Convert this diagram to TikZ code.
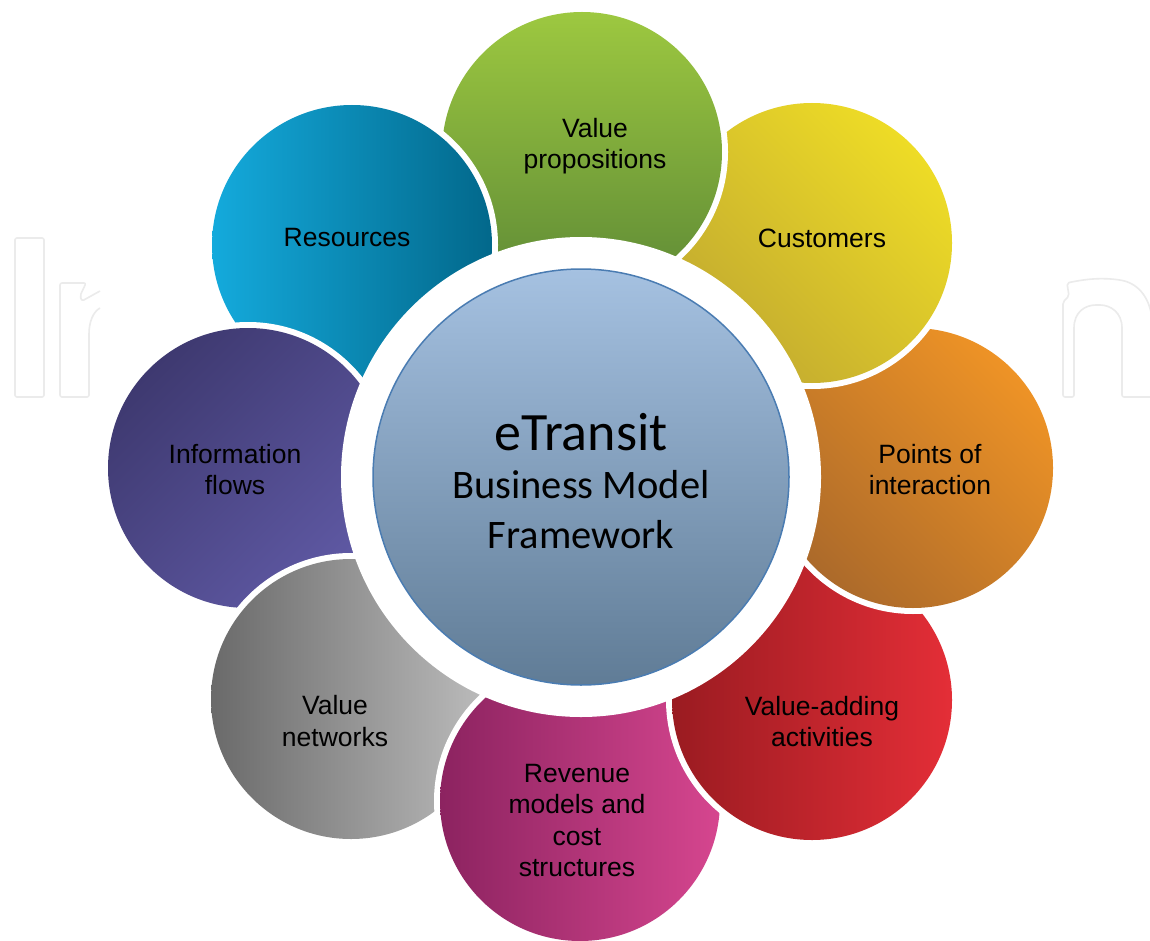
\documentclass[tikz,border=0pt]{standalone}
\usepackage{fontspec}
\setmainfont{Liberation Sans}
\newfontfamily\hubfont{Carlito}
\definecolor{gA}{HTML}{9DC840}\definecolor{gB}{HTML}{5E8A36}
\definecolor{yA}{HTML}{EEDC26}\definecolor{yB}{HTML}{C2AA30}
\definecolor{oA}{HTML}{EE9326}\definecolor{oB}{HTML}{AC6A2A}
\definecolor{rA}{HTML}{E42E37}\definecolor{rB}{HTML}{9A1B21}
\definecolor{mA}{HTML}{D6468F}\definecolor{mB}{HTML}{8C2360}
\definecolor{grA}{HTML}{BDBDBD}\definecolor{grB}{HTML}{6A6A6A}
\definecolor{pA}{HTML}{3E3970}\definecolor{pB}{HTML}{5F59A4}
\definecolor{bA}{HTML}{14AADC}\definecolor{bB}{HTML}{02688B}
\definecolor{cA}{HTML}{A5C1E1}\definecolor{cB}{HTML}{607C96}
\definecolor{cE}{HTML}{4A7CB2}
\definecolor{wm}{HTML}{EBEBEB}
\tikzset{
  halo/.style={fill=white},
  lbl/.style={align=center, text=black, inner sep=0pt, font=\fontsize{26.5}{31.5}\selectfont},
  wmline/.style={draw=wm, line width=1.6pt, line join=round},
}
\begin{document}
\begin{tikzpicture}[x=1pt,y=-1pt]
\useasboundingbox (0,0) rectangle (1150,941);
\fill[white] (0,0) rectangle (1150,941);
% watermark remnants
\draw[wmline, rounded corners=2pt] (15,238) rectangle (44,397);
\draw[wmline, rounded corners=2pt] (100,308) .. controls (93,312) and (89,322) .. (89,336) -- (89,397) -- (60,397) -- (60,283) -- (86,283) -- (80,296) -- (82,301) -- (100,291);
\draw[wmline, rounded corners=2pt] (1063,397) -- (1063,302) -- (1069,296) -- (1067,283) .. controls (1090,278) and (1105,278) .. (1120,280) .. controls (1140,284) and (1150,300) .. (1152,320) -- (1152,397) -- (1122,397) -- (1122,330) .. controls (1122,312) and (1110,305) .. (1098,305) .. controls (1085,305) and (1074,312) .. (1074,330) -- (1074,397) -- cycle;
% outer circles, bottom to top
\fill[halo] (248,468) circle (146pt);
\shade[top color=pA, bottom color=pB, shading angle=45] (248,468) circle (140pt);
\fill[halo] (351,699) circle (146pt);
\shade[left color=grB, right color=grA] (351,699) circle (140pt);
\fill[halo] (580,801) circle (146pt);
\shade[left color=mB, right color=mA] (580,801) circle (140pt);
\fill[halo] (812,700) circle (146pt);
\shade[left color=rB, right color=rA] (812,700) circle (140pt);
\fill[halo] (913,468) circle (146pt);
\shade[top color=oA, bottom color=oB, shading angle=-45] (913,468) circle (140pt);
\fill[halo] (812,243) circle (146pt);
\shade[top color=yA, bottom color=yB, shading angle=-45] (812,243) circle (140pt);
\fill[halo] (582,152) circle (146pt);
\shade[top color=gA, bottom color=gB] (582,152) circle (140pt);
\fill[halo] (352,245) circle (146pt);
\shade[left color=bA, right color=bB] (352,245) circle (140pt);
\begin{scope}
\clip (90,300) rectangle (420,468);
\fill[halo] (248,468) circle (146pt);
\shade[top color=pA, bottom color=pB, shading angle=45] (248,468) circle (140pt);
\end{scope}
% hub
\fill[halo] (581,477) circle (240pt);
\node[circle, minimum size=416pt, inner sep=0pt, top color=cA, bottom color=cB, draw=cE, line width=1.5pt] (hub) at (581,477) {};
\node[anchor=base, font=\hubfont\fontsize{54}{58}\selectfont] (t1) at (581,450) {eTransit};
\node[anchor=base, font=\hubfont\fontsize{40.5}{46}\selectfont] (t2) at (581,498) {Business Model};
\node[anchor=base, font=\hubfont\fontsize{40.5}{46}\selectfont] (t3) at (581,548) {Framework};
% labels
\node[lbl] (vp) at (595,146) {Value\\propositions};
\node[lbl] (cu) at (822,238) {Customers};
\node[lbl] (pi) at (930,469.5) {Points of\\interaction};
\node[lbl] (va) at (822,721.5) {Value-adding\\activities};
\node[lbl] (rm) at (577,820.5) {Revenue\\models and\\cost\\structures};
\node[lbl] (vn) at (335,721) {Value\\networks};
\node[lbl] (if) at (235,469.5) {Information\\flows};
\node[lbl] (re) at (347,238) {Resources};
\end{tikzpicture}
\end{document}
